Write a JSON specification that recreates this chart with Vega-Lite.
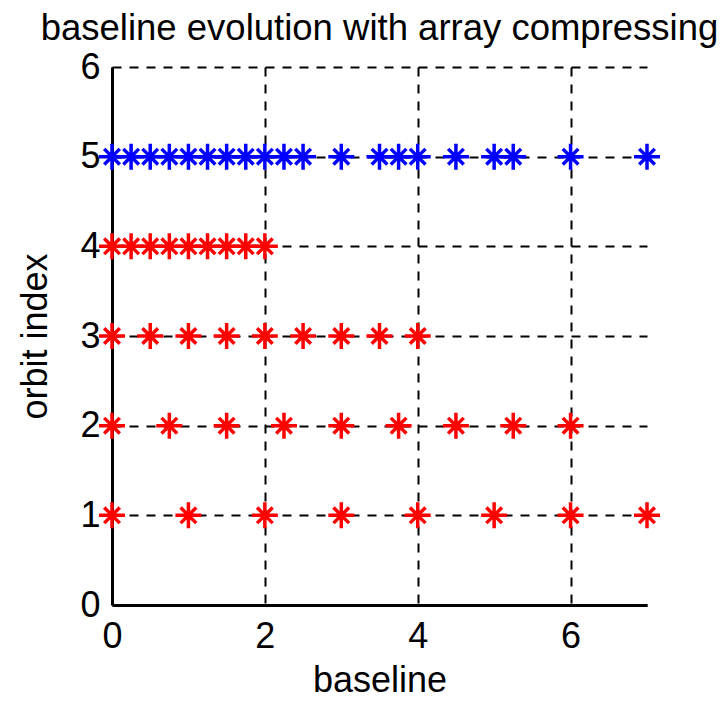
{
  "$schema": "https://vega.github.io/schema/vega-lite/v6.json",
  "width": 535,
  "height": 538,
  "autosize": {"type": "none"},
  "padding": {"left": 112, "top": 67, "right": 76, "bottom": 96},
  "background": "white",
  "title": {
    "text": "baseline evolution with array compressing",
    "font": "Liberation Sans",
    "fontSize": 36.5,
    "fontWeight": "normal",
    "color": "black",
    "anchor": "middle",
    "offset": 2
  },
  "config": {
    "view": {"stroke": null},
    "axis": {
      "labelFont": "Liberation Sans",
      "titleFont": "Liberation Sans",
      "labelFontSize": 36,
      "titleFontSize": 36,
      "titleFontWeight": "normal",
      "labelColor": "black",
      "titleColor": "black",
      "domainColor": "black",
      "ticks": false,
      "gridColor": "black",
      "gridDash": [9, 8],
      "gridWidth": 2,
      "gridOpacity": 1
    }
  },
  "data": {
    "values": [
      {"baseline": 0, "orbit": 1, "group": "compressed"},
      {"baseline": 1, "orbit": 1, "group": "compressed"},
      {"baseline": 2, "orbit": 1, "group": "compressed"},
      {"baseline": 3, "orbit": 1, "group": "compressed"},
      {"baseline": 4, "orbit": 1, "group": "compressed"},
      {"baseline": 5, "orbit": 1, "group": "compressed"},
      {"baseline": 6, "orbit": 1, "group": "compressed"},
      {"baseline": 7, "orbit": 1, "group": "compressed"},
      {"baseline": 0, "orbit": 2, "group": "compressed"},
      {"baseline": 0.75, "orbit": 2, "group": "compressed"},
      {"baseline": 1.5, "orbit": 2, "group": "compressed"},
      {"baseline": 2.25, "orbit": 2, "group": "compressed"},
      {"baseline": 3, "orbit": 2, "group": "compressed"},
      {"baseline": 3.75, "orbit": 2, "group": "compressed"},
      {"baseline": 4.5, "orbit": 2, "group": "compressed"},
      {"baseline": 5.25, "orbit": 2, "group": "compressed"},
      {"baseline": 6, "orbit": 2, "group": "compressed"},
      {"baseline": 0, "orbit": 3, "group": "compressed"},
      {"baseline": 0.5, "orbit": 3, "group": "compressed"},
      {"baseline": 1, "orbit": 3, "group": "compressed"},
      {"baseline": 1.5, "orbit": 3, "group": "compressed"},
      {"baseline": 2, "orbit": 3, "group": "compressed"},
      {"baseline": 2.5, "orbit": 3, "group": "compressed"},
      {"baseline": 3, "orbit": 3, "group": "compressed"},
      {"baseline": 3.5, "orbit": 3, "group": "compressed"},
      {"baseline": 4, "orbit": 3, "group": "compressed"},
      {"baseline": 0, "orbit": 4, "group": "compressed"},
      {"baseline": 0.25, "orbit": 4, "group": "compressed"},
      {"baseline": 0.5, "orbit": 4, "group": "compressed"},
      {"baseline": 0.75, "orbit": 4, "group": "compressed"},
      {"baseline": 1, "orbit": 4, "group": "compressed"},
      {"baseline": 1.25, "orbit": 4, "group": "compressed"},
      {"baseline": 1.5, "orbit": 4, "group": "compressed"},
      {"baseline": 1.75, "orbit": 4, "group": "compressed"},
      {"baseline": 2, "orbit": 4, "group": "compressed"},
      {"baseline": 0, "orbit": 5, "group": "union"},
      {"baseline": 0.25, "orbit": 5, "group": "union"},
      {"baseline": 0.5, "orbit": 5, "group": "union"},
      {"baseline": 0.75, "orbit": 5, "group": "union"},
      {"baseline": 1, "orbit": 5, "group": "union"},
      {"baseline": 1.25, "orbit": 5, "group": "union"},
      {"baseline": 1.5, "orbit": 5, "group": "union"},
      {"baseline": 1.75, "orbit": 5, "group": "union"},
      {"baseline": 2, "orbit": 5, "group": "union"},
      {"baseline": 2.25, "orbit": 5, "group": "union"},
      {"baseline": 2.5, "orbit": 5, "group": "union"},
      {"baseline": 3, "orbit": 5, "group": "union"},
      {"baseline": 3.5, "orbit": 5, "group": "union"},
      {"baseline": 3.75, "orbit": 5, "group": "union"},
      {"baseline": 4, "orbit": 5, "group": "union"},
      {"baseline": 4.5, "orbit": 5, "group": "union"},
      {"baseline": 5, "orbit": 5, "group": "union"},
      {"baseline": 5.25, "orbit": 5, "group": "union"},
      {"baseline": 6, "orbit": 5, "group": "union"},
      {"baseline": 7, "orbit": 5, "group": "union"}
    ]
  },
  "mark": {
    "type": "point",
    "shape": "M-1,0L1,0M0,-1L0,1M-0.6,-0.6L0.6,0.6M-0.6,0.6L0.6,-0.6",
    "filled": false,
    "size": 676,
    "strokeWidth": 3.5,
    "opacity": 1,
    "clip": false
  },
  "encoding": {
    "x": {
      "field": "baseline",
      "type": "quantitative",
      "title": "baseline",
      "scale": {"domain": [0, 7], "nice": false, "zero": true},
      "axis": {
        "values": [0, 2, 4, 6],
        "grid": true,
        "domainWidth": 3,
        "labelPadding": 14,
        "labelFlush": false,
        "titlePadding": 9,
        "format": "d"
      }
    },
    "y": {
      "field": "orbit",
      "type": "quantitative",
      "title": "orbit index",
      "scale": {"domain": [0, 6], "nice": false},
      "axis": {
        "values": [0, 1, 2, 3, 4, 5, 6],
        "grid": true,
        "domainWidth": 3,
        "labelPadding": 12,
        "labelFlush": false,
        "titlePadding": 25,
        "format": "d"
      }
    },
    "color": {
      "field": "group",
      "type": "nominal",
      "scale": {"domain": ["compressed", "union"], "range": ["#ff0000", "#0000ff"]},
      "legend": null
    }
  }
}
